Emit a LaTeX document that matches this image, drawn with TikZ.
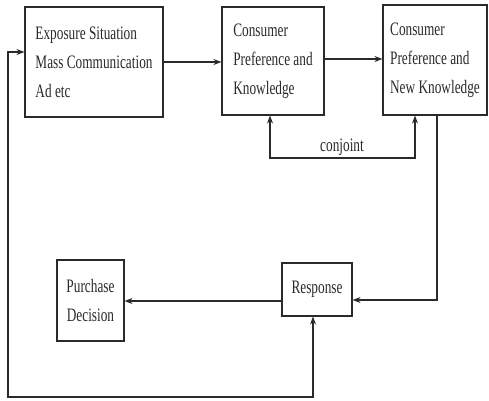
\documentclass[tikz,border=0pt]{standalone}
\usepackage{fontspec}
\usetikzlibrary{arrows.meta,calc}
\newfontfamily\diagfont[FakeStretch=0.7]{Liberation Serif}
\definecolor{ink}{HTML}{2A2A2A}
\tikzset{
  x=1pt, y=-1pt,
  every node/.style={font=\diagfont\fontsize{19}{29}\selectfont, text=ink},
  box/.style={draw=ink, line width=1.1pt, rectangle, align=left, inner sep=0pt},
  flow/.style={draw=ink, line width=1.1pt, -{Stealth[length=8pt,width=6pt]}},
  twoway/.style={draw=ink, line width=1.1pt, {Stealth[length=8pt,width=6pt]}-{Stealth[length=8pt,width=6pt]}}
}
\begin{document}
\begin{tikzpicture}
\useasboundingbox (0,0) rectangle (489,400);

% boxes
\node[box, minimum width=138pt, minimum height=110pt] (expo) at (94,62)
  {Exposure Situation\\Mass Communication\\Ad etc};
\node[box, minimum width=102pt, minimum height=108pt] (pref) at (273,61)
  {Consumer\\Preference and\\Knowledge};
\node[box, minimum width=104pt, minimum height=110pt] (newk) at (435,60)
  {Consumer\\Preference and\\New Knowledge};
\node[box, minimum width=70pt, minimum height=53pt] (resp) at (317,289.5)
  {Response};
\node[box, align=center, minimum width=67pt, minimum height=81pt] (purch) at (90.5,300.5)
  {Purchase\\Decision};

% top row
\draw[flow] (expo.east) -- (expo.east -| pref.west);
\draw[flow] (pref.east |- 0,59) -- (newk.west |- 0,59);

% conjoint loop
\coordinate (cjL) at (270,158);
\coordinate (cjR) at (415,158);
\draw[twoway] (pref.south -| cjL) -- (cjL) -- (cjR) -- (newk.south -| cjR);
\node (cjlabel) at (342,147) {conjoint};

% down to response, then purchase decision
\coordinate (rturn) at (437,300);
\draw[flow] (newk.south -| rturn) -- (rturn) -- (rturn -| resp.east);
\coordinate (rp) at (0,301);
\draw[flow] (rp -| resp.west) -- (rp -| purch.east);

% outer feedback loop
\coordinate (bR) at (313,397);
\coordinate (bL) at (8,397);
\coordinate (tL) at (8,52);
\draw[twoway] (resp.south -| bR) -- (bR) -- (bL) -- (tL) -- (tL -| expo.west);
\end{tikzpicture}
\end{document}
